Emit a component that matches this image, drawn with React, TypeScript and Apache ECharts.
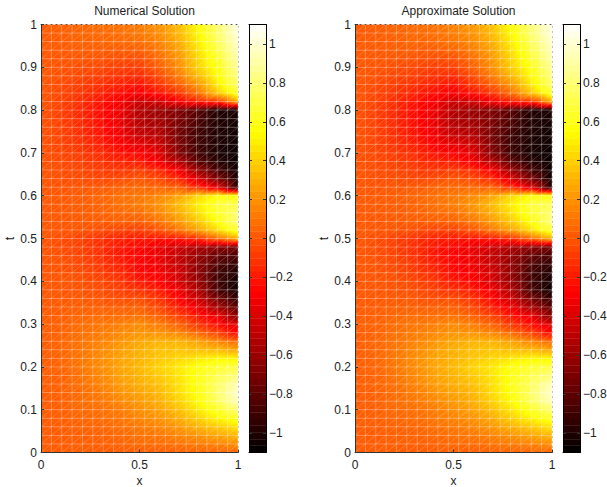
import React, { useEffect, useRef } from "react";
import * as echarts from "echarts";

const xNodes = [0, 0.1, 0.2, 0.3, 0.4, 0.5, 0.6, 0.7, 0.8, 0.9, 1];
const tNodes = [1, 0.98, 0.96, 0.94, 0.92, 0.9, 0.88, 0.86, 0.84, 0.82, 0.8, 0.78, 0.76, 0.74, 0.72, 0.7, 0.68, 0.66, 0.64, 0.62, 0.6, 0.58, 0.56, 0.54, 0.52, 0.5, 0.48, 0.46, 0.44, 0.42, 0.4, 0.38, 0.36, 0.34, 0.32, 0.3, 0.28, 0.26, 0.24, 0.22, 0.2, 0.18, 0.16, 0.14, 0.12, 0.1, 0.08, 0.06, 0.04, 0.02, 0];
const yTicks = [0, 0.1, 0.2, 0.3, 0.4, 0.5, 0.6, 0.7, 0.8, 0.9, 1];
const colorTicks = [-1, -0.8, -0.6, -0.4, -0.2, 0, 0.2, 0.4, 0.6, 0.8, 1];
const titles = ["Numerical Solution", "Approximate Solution"];

// Values in hundredths, top row t=1 to bottom row t=0, columns x=0..1.
const numericalRows = [
  [2,3,5,7,9,12,20,33,55,80,105],
  [2,3,5,6,8,11,18,32,53,78,103],
  [2,2,4,5,6,8,15,28,50,75,99],
  [2,1,2,2,2,3,11,24,46,70,96],
  [1,0,0,-1,-3,-3,7,20,42,65,92],
  [1,-1,-3,-5,-8,-8,3,18,40,60,88],
  [1,-2,-5,-8,-12,-15,-4,12,33,56,83],
  [0,-4,-8,-12,-17,-22,-11,3,22,50,78],
  [0,-5,-11,-17,-24,-30,-22,-10,10,38,65],
  [0,-6,-13,-21,-30,-45,-42,-30,-18,-10,30],
  [-1,-7,-15,-24,-33,-52,-60,-70,-83,-100,-102],
  [-1,-7,-15,-24,-34,-52,-58,-70,-85,-100,-103],
  [-1,-6,-14,-23,-33,-50,-55,-72,-88,-100,-105],
  [-1,-6,-13,-21,-31,-45,-50,-73,-90,-100,-105],
  [-1,-6,-11,-18,-27,-36,-44,-70,-90,-101,-106],
  [-1,-5,-9,-14,-22,-27,-38,-68,-90,-102,-107],
  [-1,-4,-7,-11,-16,-19,-32,-53,-82,-98,-107],
  [0,-3,-5,-8,-10,-8,-15,-30,-62,-88,-106],
  [0,-2,-3,-5,-4,0,-5,-15,-40,-70,-103],
  [0,-1,0,1,4,6,5,2,-15,-40,-95],
  [1,1,2,5,8,10,16,25,42,55,55],
  [1,1,2,4,8,12,20,33,50,68,72],
  [1,1,2,4,6,7,16,28,45,65,80],
  [1,0,1,2,3,3,10,22,38,58,82],
  [1,0,-1,-3,-6,-8,-1,10,25,45,65],
  [0,-3,-7,-12,-17,-20,-22,-20,-12,8,30],
  [0,-3,-7,-13,-21,-26,-35,-44,-55,-65,-72],
  [0,-2,-6,-12,-21,-27,-34,-48,-62,-78,-87],
  [0,-1,-5,-10,-18,-27,-33,-47,-65,-85,-95],
  [0,-1,-3,-8,-14,-25,-30,-42,-65,-90,-100],
  [0,0,-2,-5,-10,-20,-27,-42,-62,-90,-105],
  [0,0,-1,-3,-7,-12,-20,-32,-55,-88,-105],
  [1,1,1,0,-3,-3,-12,-27,-45,-72,-95],
  [1,2,3,3,3,3,-5,-19,-33,-58,-82],
  [2,3,5,7,7,8,3,-8,-22,-35,-68],
  [2,4,7,10,13,17,12,3,-12,-25,-40],
  [2,4,8,12,16,20,20,15,5,-8,-28],
  [2,5,9,14,20,26,30,30,24,15,5],
  [2,5,10,16,23,29,35,36,34,32,25],
  [2,5,10,17,25,30,37,42,48,52,52],
  [2,5,10,17,25,32,41,48,58,65,70],
  [2,4,9,16,24,30,38,47,60,72,82],
  [2,4,8,14,22,28,35,45,60,76,95],
  [2,4,7,12,19,25,32,44,58,78,100],
  [2,3,7,10,16,22,29,40,55,75,95],
  [2,3,6,8,12,18,25,34,48,62,80],
  [2,3,5,7,10,15,20,28,40,52,62],
  [2,2,4,5,8,11,15,21,30,38,47],
  [2,2,3,4,6,9,11,15,20,26,32],
  [2,2,3,3,4,6,7,9,12,15,18],
  [2,2,2,2,3,3,3,4,4,5,6],
];
const approximateRows = [
  [1,2,4,6,9,14,22,36,58,82,106],
  [1,2,4,6,8,13,20,34,55,80,104],
  [1,2,3,5,6,10,17,30,51,76,100],
  [1,1,2,2,2,5,13,26,47,71,97],
  [1,0,0,-1,-3,-2,8,22,43,66,93],
  [1,-1,-3,-5,-8,-7,4,19,40,60,88],
  [1,-2,-5,-8,-12,-14,-3,13,33,56,83],
  [0,-4,-8,-12,-17,-22,-10,4,23,50,78],
  [0,-5,-11,-17,-24,-30,-22,-10,10,38,65],
  [0,-6,-13,-21,-30,-45,-42,-30,-18,-10,30],
  [-1,-7,-15,-24,-33,-52,-61,-70,-83,-100,-102],
  [-1,-7,-15,-24,-34,-53,-59,-70,-85,-100,-103],
  [-1,-6,-14,-23,-33,-50,-56,-72,-88,-100,-105],
  [-1,-6,-13,-21,-31,-45,-51,-74,-92,-101,-105],
  [-1,-6,-11,-18,-27,-36,-44,-71,-92,-102,-106],
  [-1,-5,-9,-14,-22,-27,-38,-68,-92,-103,-107],
  [-1,-4,-7,-11,-16,-19,-31,-53,-83,-99,-107],
  [0,-3,-5,-8,-10,-8,-14,-30,-62,-89,-107],
  [0,-2,-3,-5,-4,0,-4,-15,-40,-72,-107],
  [0,-1,0,1,4,6,6,3,-14,-42,-100],
  [1,1,2,5,8,11,17,26,43,56,56],
  [1,1,2,4,8,13,21,34,51,69,74],
  [1,1,2,4,6,8,17,29,46,66,81],
  [1,0,1,2,3,4,11,23,39,59,83],
  [1,0,-1,-3,-6,-7,0,11,26,46,66],
  [0,-3,-7,-12,-17,-20,-22,-20,-12,8,30],
  [0,-3,-7,-13,-21,-26,-35,-44,-55,-65,-72],
  [0,-2,-6,-12,-21,-27,-34,-48,-62,-78,-87],
  [0,-1,-5,-10,-18,-27,-33,-47,-65,-85,-95],
  [0,-1,-3,-8,-14,-25,-30,-42,-65,-90,-100],
  [0,0,-2,-5,-10,-20,-27,-42,-62,-90,-105],
  [0,0,-1,-3,-7,-12,-20,-32,-55,-88,-105],
  [1,1,1,0,-3,-3,-12,-27,-45,-72,-95],
  [1,2,3,3,3,3,-5,-19,-33,-58,-82],
  [2,3,5,7,7,8,3,-8,-22,-35,-68],
  [2,4,7,10,13,17,12,3,-12,-25,-40],
  [2,4,8,12,16,20,20,15,5,-8,-28],
  [2,5,9,14,20,26,30,30,24,15,5],
  [2,5,10,16,23,29,35,36,34,32,25],
  [2,5,10,17,25,30,37,42,48,52,52],
  [2,5,10,17,25,32,41,48,58,65,70],
  [2,4,9,16,24,30,38,47,60,72,82],
  [2,4,8,14,22,28,35,45,60,76,95],
  [2,4,7,12,19,25,32,44,58,78,100],
  [2,3,7,10,16,22,29,40,55,75,95],
  [2,3,6,8,12,18,25,34,48,62,80],
  [2,3,5,7,10,15,20,28,40,52,62],
  [2,2,4,5,8,11,15,21,30,38,47],
  [2,2,3,4,6,9,11,15,20,26,32],
  [2,2,3,3,4,6,7,9,12,15,18],
  [2,2,2,2,3,3,3,4,4,5,6],
];

const MESH_X = 19;
const MESH_T = 50;
const COLOR_MIN = -1.1;
const COLOR_MAX = 1.1;
const COLOR_LEVELS = 64;
const FONT = "Liberation Sans";
const TEXT = "#222";

// MATLAB "hot": black to red to yellow to white.
const hotAt = (v: number) => {
  const f = Math.min(1, Math.max(0, (v - COLOR_MIN) / (COLOR_MAX - COLOR_MIN)));
  const r = Math.min(1, f / 0.375);
  const g = Math.min(1, Math.max(0, (f - 0.375) / 0.375));
  const b = Math.max(0, (f - 0.75) / 0.25);
  return `rgb(${Math.round(r * 255)},${Math.round(g * 255)},${Math.round(b * 255)})`;
};
const hotBreaks = [COLOR_MIN + 0.825, COLOR_MIN + 1.65];

type P = { x: number; y: number; v: number };
const triangleFill = (a: P, b: P, c: P) => {
  const pts = [a, b, c].sort((m, n) => m.v - n.v);
  const vMin = pts[0].v;
  const vMax = pts[2].v;
  if (vMax - vMin < 1e-6) return hotAt(vMin);
  const det = (b.x - a.x) * (c.y - a.y) - (c.x - a.x) * (b.y - a.y);
  const gx = ((b.v - a.v) * (c.y - a.y) - (c.v - a.v) * (b.y - a.y)) / det;
  const gy = ((c.v - a.v) * (b.x - a.x) - (b.v - a.v) * (c.x - a.x)) / det;
  const g2 = gx * gx + gy * gy;
  const k = (vMax - vMin) / g2;
  const stops = [{ offset: 0, color: hotAt(vMin) }];
  hotBreaks.forEach((br) => {
    if (br > vMin && br < vMax) stops.push({ offset: (br - vMin) / (vMax - vMin), color: hotAt(br) });
  });
  stops.push({ offset: 1, color: hotAt(vMax) });
  return new echarts.graphic.LinearGradient(pts[0].x, pts[0].y, pts[0].x + gx * k, pts[0].y + gy * k, stops, true);
};

const surfaceSeries = (rows: number[][], axisIndex: number) => {
  const cells: number[][] = [];
  for (let j = 0; j < tNodes.length - 1; j++) for (let i = 0; i < xNodes.length - 1; i++) cells.push([i, j]);
  return {
    type: "custom",
    xAxisIndex: axisIndex,
    yAxisIndex: axisIndex,
    silent: true,
    clip: true,
    z: 1,
    encode: { x: 0, y: 1 },
    data: cells,
    renderItem: (params: any, api: any) => {
      const i = api.value(0);
      const j = api.value(1);
      const node = (ii: number, jj: number): P => {
        const p = api.coord([xNodes[ii], tNodes[jj]]);
        return { x: p[0], y: p[1], v: rows[jj][ii] / 100 };
      };
      const tl = node(i, j);
      const tr = node(i + 1, j);
      const bl = node(i, j + 1);
      const br = node(i + 1, j + 1);
      const tri = (a: P, b: P, c: P) => {
        const fill = triangleFill(a, b, c);
        return {
          type: "polygon",
          shape: { points: [[a.x, a.y], [b.x, b.y], [c.x, c.y]] },
          style: { fill, stroke: fill, lineWidth: 0.6 },
        };
      };
      return { type: "group", children: [tri(tl, tr, bl), tri(tr, br, bl)] };
    },
  };
};

const meshSeries = (axisIndex: number) => {
  const lines: number[][] = [];
  for (let i = 0; i <= MESH_X; i++) lines.push([i / MESH_X, 0, i / MESH_X, 1, 0]);
  for (let j = 0; j <= MESH_T; j++) lines.push([0, j / MESH_T, 1, j / MESH_T, 0]);
  for (let c = 0; c < MESH_X + MESH_T; c++) {
    // each diagonal runs lower-left to upper-right through mesh nodes
    const i0 = Math.max(0, c - MESH_T);
    const j0 = Math.max(0, MESH_T - c);
    const n = Math.min(MESH_X - i0, MESH_T - j0);
    lines.push([i0 / MESH_X, j0 / MESH_T, (i0 + n) / MESH_X, (j0 + n) / MESH_T, 1]);
  }
  return {
    type: "custom",
    xAxisIndex: axisIndex,
    yAxisIndex: axisIndex,
    silent: true,
    clip: true,
    z: 2,
    encode: { x: [0, 2], y: [1, 3] },
    data: lines,
    renderItem: (params: any, api: any) => {
      const a = api.coord([api.value(0), api.value(1)]);
      const b = api.coord([api.value(2), api.value(3)]);
      const diag = api.value(4) === 1;
      return {
        type: "line",
        shape: { x1: a[0], y1: a[1], x2: b[0], y2: b[1] },
        style: { stroke: "#fff", opacity: diag ? 0.3 : 0.3, lineWidth: diag ? 0.7 : 1 },
      };
    },
  };
};

const colorbarSeries = (axisIndex: number) => {
  const levels: number[][] = [];
  const step = (COLOR_MAX - COLOR_MIN) / COLOR_LEVELS;
  for (let k = 0; k < COLOR_LEVELS; k++) levels.push([COLOR_MIN + k * step, COLOR_MIN + (k + 1) * step]);
  return {
    type: "custom",
    xAxisIndex: axisIndex,
    yAxisIndex: axisIndex,
    silent: true,
    clip: true,
    z: 1,
    encode: { y: [0, 1] },
    data: levels,
    renderItem: (params: any, api: any) => {
      const lo = api.value(0);
      const hi = api.value(1);
      const a = api.coord([0, lo]);
      const b = api.coord([1, hi]);
      const col = hotAt(lo + 0.5 * (hi - lo));
      return {
        type: "rect",
        shape: { x: a[0], y: b[1], width: b[0] - a[0], height: a[1] - b[1] },
        style: { fill: col, stroke: col, lineWidth: 0.4 },
      };
    },
  };
};

const fmt = (v: number) => (v < 0 ? "\u2212" + String(Math.abs(Number(v.toFixed(2)))) : String(Number(v.toFixed(2))));

export default function App() {
  const ref = useRef<HTMLDivElement>(null);
  useEffect(() => {
    const chart = echarts.init(ref.current!, undefined, { renderer: "svg" });
    const panels = [
      { left: 41, width: 197, barLeft: 249, barWidth: 17 },
      { left: 355, width: 197, barLeft: 563, barWidth: 17 },
    ];
    const top = 24.5;
    const height = 428;
    const grids: any[] = [];
    const xAxes: any[] = [];
    const yAxes: any[] = [];
    const xMirror: any[] = [];
    const yMirror: any[] = [];
    const series: any[] = [];
    const label = { color: TEXT, fontFamily: FONT, fontSize: 12 };
    const line = { show: true, onZero: false, lineStyle: { color: "#333", width: 1 } };
    const frame = { show: true, onZero: false, lineStyle: { color: "#000", width: 1 } };
    const dotted = (color: string) => ({ show: true, onZero: false, lineStyle: { color, width: 1, type: [1, 4] } });
    panels.forEach((p, idx) => {
      const base = grids.length;
      grids.push({ left: p.left, top, width: p.width, height, containLabel: false, outerBoundsMode: "none" });
      grids.push({ left: p.barLeft, top, width: p.barWidth, height, containLabel: false, outerBoundsMode: "none" });
      xAxes.push({
        gridIndex: base, type: "value", min: 0, max: 1, interval: 0.5,
        name: "x", nameLocation: "middle", nameGap: 21, nameTextStyle: label,
        axisLabel: { ...label, margin: 6, formatter: (v: number) => fmt(v) },
        axisLine: line, axisTick: { show: true, inside: true, length: 3, lineStyle: { color: "#333" } }, splitLine: { show: false }, z: 5,
      });
      yAxes.push({
        gridIndex: base, type: "value", min: 0, max: 1, interval: 0.1,
        name: "t", nameLocation: "middle", nameGap: 25, nameTextStyle: label,
        axisLabel: { ...label, margin: 4, formatter: (v: number) => (yTicks.includes(Number(v.toFixed(1))) ? fmt(v) : "") },
        axisLine: line, axisTick: { show: true, inside: true, length: 3, lineStyle: { color: "#333" } }, splitLine: { show: false }, z: 5,
      });
      xAxes.push({
        gridIndex: base + 1, type: "value", min: 0, max: 1,
        axisLabel: { show: false }, axisTick: { show: false }, axisLine: frame, splitLine: { show: false },
      });
      yAxes.push({
        gridIndex: base + 1, type: "value", min: -1.1, max: 1.1, position: "right",
        interval: 0.2,
        axisLabel: { ...label, margin: 3, customValues: colorTicks, formatter: (v: number) => fmt(v) },
        axisTick: { show: true, inside: true, length: 3, customValues: colorTicks, lineStyle: { color: "#333" } },
        axisLine: frame, splitLine: { show: false }, z: 5,
      });
      xMirror.push({
        gridIndex: base, type: "value", min: 0, max: 1, position: "top",
        axisLabel: { show: false }, axisTick: { show: false }, axisLine: dotted("#555"), splitLine: { show: false }, z: 5,
      });
      yMirror.push({
        gridIndex: base, type: "value", min: 0, max: 1, position: "right",
        axisLabel: { show: false }, axisTick: { show: false }, axisLine: dotted("#bbb"), splitLine: { show: false }, z: 5,
      });
      xMirror.push({
        gridIndex: base + 1, type: "value", min: 0, max: 1, position: "top",
        axisLabel: { show: false }, axisTick: { show: false }, axisLine: frame, splitLine: { show: false }, z: 5,
      });
      yMirror.push({
        gridIndex: base + 1, type: "value", min: -1.1, max: 1.1, position: "left", interval: 0.2,
        axisLabel: { show: false },
        axisTick: { show: true, inside: true, length: 3, customValues: colorTicks, lineStyle: { color: "#333" } },
        axisLine: frame, splitLine: { show: false }, z: 5,
      });
      series.push(surfaceSeries(idx === 0 ? numericalRows : approximateRows, base));
      series.push(meshSeries(base));
      series.push(colorbarSeries(base + 1));
    });
    chart.setOption({
      animation: false,
      backgroundColor: "#fff",
      title: panels.map((p, i) => ({
        text: titles[i],
        left: p.left + p.width / 2,
        top: 0,
        textAlign: "center",
        textStyle: { color: TEXT, fontFamily: FONT, fontSize: 12, fontWeight: "normal" },
      })),
      grid: grids,
      xAxis: xAxes.concat(xMirror),
      yAxis: yAxes.concat(yMirror),
      series,
    });
    return () => chart.dispose();
  }, []);
  return <div ref={ref} style={{ width: 607, height: 487, position: "absolute", left: 0, top: 0 }} />;
}
